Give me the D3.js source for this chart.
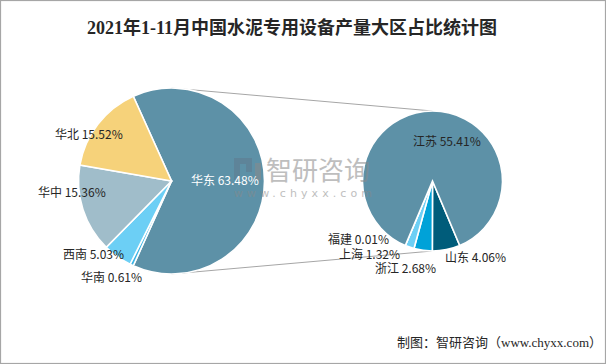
<!DOCTYPE html>
<html><head><meta charset="utf-8">
<script src="https://cdn.jsdelivr.net/npm/d3@7"></script>
<style>body{margin:0;background:#fff}svg{display:block}</style>
</head><body>
<svg id="c" width="606" height="364"></svg>
<script>
const mainCats = ["华东","华南","西南","华中","华北"];
const mainVals = [63.48, 0.61, 5.03, 15.36, 15.52];
const mainColors = ["#5d91a7","#3fb6e6","#6ccff5","#a0bdca","#f6d27a"];
const subCats = ["山东","浙江","上海","福建","江苏"];
const subVals = [4.06, 2.68, 1.32, 0.01, 55.41];
const subColors = ["#005c7a","#00a2d8","#6ccff5","#f6d27a","#5d91a7"];
const title = "2021年1-11月中国水泥专用设备产量大区占比统计图";
const source = "制图：智研咨询（www.chyxx.com）";

const svg = d3.select("#c");
svg.append("rect").attr("x",0.5).attr("y",0.5).attr("width",605).attr("height",363)
  .attr("fill","#fff").attr("stroke","#a6a6a6").attr("stroke-width",1.2);

const c1 = {x:171.5, y:181, r:93};
const c2 = {x:432.5, y:181, r:70};

svg.append("line").attr("x1",c1.x).attr("y1",c1.y-c1.r).attr("x2",c2.x).attr("y2",c2.y-c2.r)
  .attr("stroke","#a6a6a6").attr("stroke-width",1);
svg.append("line").attr("x1",c1.x).attr("y1",c1.y+c1.r).attr("x2",c2.x).attr("y2",c2.y+c2.r)
  .attr("stroke","#a6a6a6").attr("stroke-width",1);

const mainTotal = d3.sum(mainVals);
const otherAng = mainVals[0]/mainTotal*2*Math.PI;
const s1 = Math.PI/2 - otherAng/2;
const pie1 = d3.pie().sort(null).startAngle(s1).endAngle(s1+2*Math.PI);
const arc1 = d3.arc().innerRadius(0).outerRadius(c1.r);
const g1 = svg.append("g").attr("transform",`translate(${c1.x},${c1.y})`);
g1.selectAll("path").data(pie1(mainVals)).join("path")
  .attr("d",arc1).attr("fill",(d,i)=>mainColors[i]).attr("stroke","#fff").attr("stroke-width",1.6);

const subTotal = d3.sum(subVals);
const smallAng = (subTotal - subVals[4])/subTotal*2*Math.PI;
const s2 = Math.PI - smallAng/2;
const pie2 = d3.pie().sort(null).startAngle(s2).endAngle(s2+2*Math.PI);
const arc2 = d3.arc().innerRadius(0).outerRadius(c2.r);
const g2 = svg.append("g").attr("transform",`translate(${c2.x},${c2.y})`);
g2.selectAll("path").data(pie2(subVals)).join("path")
  .attr("d",arc2).attr("fill",(d,i)=>subColors[i]).attr("stroke","#fff").attr("stroke-width",1.6);

// watermark
const wm = svg.append("g").attr("opacity",0.55);
wm.append("rect").attr("x",234).attr("y",158).attr("width",6).attr("height",22).attr("fill","#5f7a8e");
wm.append("rect").attr("x",234).attr("y",158).attr("width",18).attr("height",6).attr("fill","#5f7a8e");
wm.append("rect").attr("x",246).attr("y",158).attr("width",6).attr("height",14).attr("fill","#5f7a8e");
wm.append("rect").attr("x",255).attr("y",163).attr("width",6).attr("height",17).attr("fill","#8a8a8a");
wm.append("text").attr("x",266).attr("y",180).attr("font-family","Noto Sans CJK SC")
  .attr("font-size",26).attr("fill","#8a8a8a").text("智研咨询");
wm.append("text").attr("x",234).attr("y",197).attr("font-family","DejaVu Sans")
  .attr("font-size",11).attr("textLength",138).attr("lengthAdjust","spacing")
  .attr("fill","#8a8a8a").text("www.chyxx.com");

const lf = "'Noto Sans CJK SC', 'Microsoft YaHei', sans-serif";
const labels = [
  {t:`${mainCats[4]} ${mainVals[4].toFixed(2)}%`, x:55, y:135, c:"#262626"},
  {t:`${mainCats[3]} ${mainVals[3].toFixed(2)}%`, x:38, y:193, c:"#262626"},
  {t:`${mainCats[2]} ${mainVals[2].toFixed(2)}%`, x:63, y:255, c:"#262626"},
  {t:`${mainCats[1]} ${mainVals[1].toFixed(2)}%`, x:81, y:278, c:"#262626"},
  {t:`${mainCats[0]} ${mainVals[0].toFixed(2)}%`, x:191, y:181, c:"#ffffff"},
  {t:`${subCats[4]} ${subVals[4].toFixed(2)}%`, x:413, y:142, c:"#262626"},
  {t:`${subCats[3]} ${subVals[3].toFixed(2)}%`, x:328, y:239.5, c:"#262626"},
  {t:`${subCats[2]} ${subVals[2].toFixed(2)}%`, x:339, y:254.5, c:"#262626"},
  {t:`${subCats[1]} ${subVals[1].toFixed(2)}%`, x:375, y:269, c:"#262626"},
  {t:`${subCats[0]} ${subVals[0].toFixed(2)}%`, x:445, y:258, c:"#262626"}
];
svg.selectAll("text.lbl").data(labels).join("text").attr("class","lbl")
  .attr("x",d=>d.x).attr("y",d=>d.y).attr("dy","0.35em")
  .attr("font-family",lf).attr("font-size",12).attr("fill",d=>d.c).text(d=>d.t);

svg.append("text").attr("x",292).attr("y",34).attr("text-anchor","middle")
  .attr("font-family","'Liberation Serif','Noto Sans CJK SC',serif").attr("font-size",18)
  .attr("font-weight","bold").attr("fill","#262626").text(title);

svg.append("text").attr("x",602).attr("y",347).attr("text-anchor","end")
  .attr("font-family","'Liberation Serif','Noto Sans CJK SC',serif").attr("font-size",13)
  .attr("fill","#262626").text(source);
</script>
</body></html>
